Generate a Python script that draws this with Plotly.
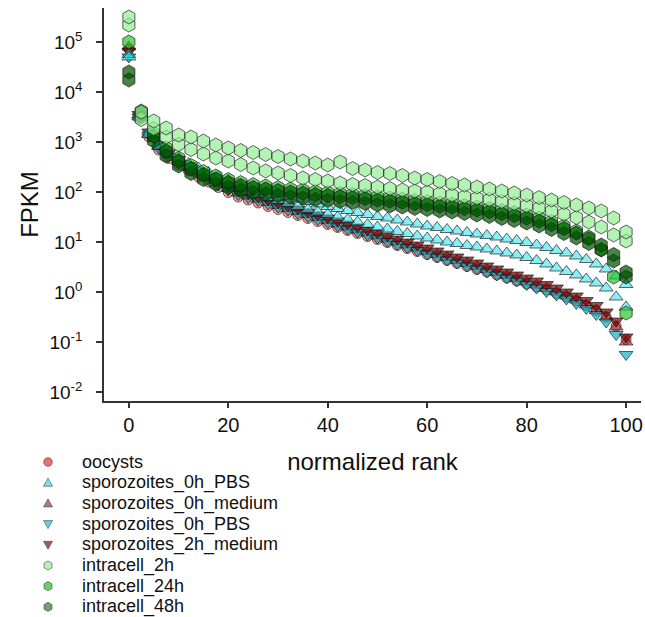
import plotly.graph_objects as go

# normalized rank positions
RANK = [0, 2, 4, 6, 8, 10, 12, 14, 16, 18, 20, 22, 24, 26, 28, 30, 32, 34, 36, 38, 40,
        42, 44, 46, 48, 50, 52, 54, 56, 58, 60, 62, 64, 66, 68, 70, 72, 74, 76, 78, 80,
        82, 84, 86, 88, 90, 92, 94, 96, 98, 100]
RANK_HEX = [0, 2.5, 5, 7.5, 10, 12.5, 15, 17.5, 20, 22.5, 25, 27.5, 30, 32.5, 35, 37.5,
            40, 42.5, 45, 47.5, 50, 52.5, 55, 57.5, 60, 62.5, 65, 67.5, 70, 72.5, 75,
            77.5, 80, 82.5, 85, 87.5, 90, 92.5, 95, 97.5, 100]

# log10(FPKM) per sample
oocysts_log = [4.86, 3.47, 3.1, 2.84, 2.67, 2.54, 2.42, 2.3, 2.2, 2.09, 1.99, 1.9, 1.84, 1.78,
               1.71, 1.65, 1.59, 1.53, 1.47, 1.41, 1.35, 1.29, 1.23, 1.17, 1.11, 1.05, 0.99,
               0.93, 0.87, 0.81, 0.75, 0.69, 0.63, 0.57, 0.51, 0.45, 0.4, 0.34, 0.28, 0.22,
               0.16, 0.1, 0.04, -0.03, -0.1, -0.18, -0.27, -0.37, -0.5, -0.68, -0.95]
spz0_pbs_a_log = [4.75, 3.55, 3.2, 2.96, 2.8, 2.68, 2.57, 2.48, 2.39, 2.31, 2.24, 2.17, 2.11,
                  2.06, 2.01, 1.96, 1.91, 1.86, 1.81, 1.76, 1.71, 1.67, 1.63, 1.59, 1.55, 1.51,
                  1.48, 1.44, 1.4, 1.36, 1.32, 1.29, 1.25, 1.22, 1.19, 1.16, 1.13, 1.1, 1.06,
                  1.03, 0.99, 0.94, 0.89, 0.83, 0.78, 0.72, 0.65, 0.56, 0.46, 0.32, 0.15]
spz0_pbs_b_log = [4.7, 3.5, 3.15, 2.92, 2.76, 2.63, 2.52, 2.42, 2.33, 2.24, 2.16, 2.08, 2.01,
                  1.95, 1.89, 1.83, 1.77, 1.71, 1.65, 1.6, 1.55, 1.5, 1.45, 1.4, 1.35, 1.3,
                  1.26, 1.21, 1.17, 1.12, 1.08, 1.04, 1.0, 0.97, 0.93, 0.9, 0.86, 0.82, 0.78,
                  0.74, 0.69, 0.63, 0.56, 0.48, 0.41, 0.34, 0.26, 0.18, 0.08, -0.1, -0.3]
spz0_medium_log = [4.9, 3.52, 3.16, 2.91, 2.74, 2.61, 2.49, 2.38, 2.28, 2.17, 2.07, 1.98, 1.92,
                   1.86, 1.79, 1.73, 1.67, 1.61, 1.55, 1.49, 1.43, 1.36, 1.3, 1.24, 1.18, 1.12,
                   1.06, 1.0, 0.94, 0.88, 0.81, 0.75, 0.69, 0.63, 0.57, 0.51, 0.45, 0.39, 0.33,
                   0.27, 0.2, 0.14, 0.07, 0.0, -0.08, -0.16, -0.26, -0.37, -0.5, -0.7, -1.0]
spz0_pbs_down_log = [4.7, 3.5, 3.14, 2.88, 2.71, 2.58, 2.46, 2.35, 2.25, 2.14, 2.04, 1.95, 1.89,
                     1.83, 1.76, 1.7, 1.64, 1.57, 1.51, 1.45, 1.39, 1.32, 1.26, 1.2, 1.14, 1.08,
                     1.01, 0.95, 0.89, 0.83, 0.76, 0.7, 0.64, 0.58, 0.52, 0.46, 0.4, 0.34, 0.28,
                     0.22, 0.15, 0.08, 0.01, -0.06, -0.14, -0.23, -0.33, -0.45, -0.6, -0.85, -1.25]
spz2_medium_log = [4.82, 3.55, 3.2, 2.95, 2.78, 2.65, 2.53, 2.42, 2.32, 2.21, 2.11, 2.02, 1.96,
                   1.9, 1.84, 1.78, 1.72, 1.66, 1.6, 1.54, 1.48, 1.42, 1.36, 1.3, 1.24, 1.18,
                   1.12, 1.06, 1.0, 0.94, 0.88, 0.82, 0.76, 0.7, 0.64, 0.58, 0.52, 0.46, 0.4,
                   0.34, 0.28, 0.22, 0.15, 0.08, 0.0, -0.08, -0.17, -0.27, -0.4, -0.58, -0.9]
intra2h_a_log = [5.5, 3.6, 3.42, 3.28, 3.14, 3.1, 3.02, 2.94, 2.88, 2.83, 2.79, 2.75, 2.71, 2.66,
                 2.62, 2.58, 2.54, 2.6, 2.47, 2.44, 2.39, 2.37, 2.33, 2.28, 2.25, 2.21, 2.17,
                 2.14, 2.1, 2.06, 2.02, 1.98, 1.94, 1.89, 1.84, 1.79, 1.74, 1.68, 1.62, 1.48, 1.2]
intra2h_b_log = [5.34, 3.45, 3.27, 3.1, 2.95, 2.85, 2.76, 2.68, 2.62, 2.55, 2.48, 2.42, 2.38,
                 2.33, 2.28, 2.25, 2.22, 2.18, 2.15, 2.13, 2.1, 2.07, 2.04, 2.02, 2.0, 1.97,
                 1.94, 1.91, 1.88, 1.85, 1.81, 1.77, 1.73, 1.68, 1.62, 1.56, 1.49, 1.4, 1.3,
                 1.14, 1.02]
intra24h_log = [5.0, 3.62, 3.18, 2.88, 2.68, 2.53, 2.41, 2.32, 2.25, 2.19, 2.15, 2.12, 2.09,
                2.06, 2.04, 2.01, 1.99, 1.97, 1.95, 1.93, 1.9, 1.88, 1.86, 1.83, 1.81, 1.78,
                1.76, 1.73, 1.7, 1.67, 1.63, 1.59, 1.54, 1.48, 1.41, 1.32, 1.22, 1.1, 0.85,
                0.3, -0.42]
intra48h_a_log = [4.24, 3.58, 3.12, 2.82, 2.62, 2.47, 2.35, 2.26, 2.19, 2.13, 2.09, 2.06, 2.03,
                  2.0, 1.98, 1.95, 1.93, 1.91, 1.89, 1.87, 1.84, 1.82, 1.8, 1.77, 1.75, 1.72,
                  1.7, 1.67, 1.64, 1.61, 1.57, 1.53, 1.48, 1.42, 1.35, 1.27, 1.18, 1.07, 0.94,
                  0.75, 0.4]
intra48h_b_log = [4.4, 3.5, 3.02, 2.72, 2.52, 2.37, 2.25, 2.16, 2.09, 2.03, 1.99, 1.96, 1.93,
                  1.9, 1.88, 1.85, 1.83, 1.81, 1.79, 1.77, 1.74, 1.72, 1.7, 1.67, 1.65, 1.62,
                  1.6, 1.57, 1.54, 1.51, 1.47, 1.43, 1.38, 1.32, 1.25, 1.17, 1.08, 0.97, 0.84,
                  0.62, 0.3]

Y_TICKS = [-2, -1, 0, 1, 2, 3, 4, 5]
Y_TICK_TEXT = ["10<sup>-2</sup>", "10<sup>-1</sup>", "10<sup>0</sup>", "10<sup>1</sup>",
               "10<sup>2</sup>", "10<sup>3</sup>", "10<sup>4</sup>", "10<sup>5</sup>"]
X_TICKS = [0, 20, 40, 60, 80, 100]

FONT = "Arial, Liberation Sans, sans-serif"
EDGE = dict(color="rgba(20,20,20,0.65)", width=1)

# symbol, fill colour, legend colour, marker size
STYLES = {
    "oocysts": ("circle", "rgba(255,40,40,0.5)", "rgba(240,80,80,0.85)", 10),
    "sporozoites_0h_PBS_up": ("triangle-up", "rgba(40,225,240,0.55)", "rgba(110,225,235,0.95)", 12),
    "sporozoites_0h_medium": ("triangle-up", "rgba(140,30,30,0.5)", "rgba(176,115,115,0.95)", 12),
    "sporozoites_0h_PBS_down": ("triangle-down", "rgba(0,170,190,0.65)", "rgba(90,205,220,0.95)", 12),
    "sporozoites_2h_medium": ("triangle-down", "rgba(115,0,0,0.7)", "rgba(160,80,80,0.95)", 12),
    "intracell_2h": ("hexagon", "rgba(150,238,150,0.72)", "rgba(180,240,175,0.95)", 14),
    "intracell_24h": ("hexagon", "rgba(30,190,30,0.65)", "rgba(95,205,95,0.95)", 14),
    "intracell_48h": ("hexagon", "rgba(0,85,0,0.72)", "rgba(105,155,105,0.95)", 14),
}

W, H = 645, 617
ML, MR, MT, MB = 104, 4, 8, 216
PW, PH = W - ML - MR, H - MT - MB

fig = go.Figure()


def add_points(x, ylog, key):
    sym, fill, _, size = STYLES[key]
    fig.add_trace(go.Scatter(
        x=x, y=[10 ** v for v in ylog], mode="markers", showlegend=False,
        marker=dict(symbol=sym, color=fill, size=size, line=EDGE),
        hoverinfo="skip"))


add_points(RANK, oocysts_log, "oocysts")
add_points(RANK, spz0_medium_log, "sporozoites_0h_medium")
add_points(RANK, spz0_pbs_down_log, "sporozoites_0h_PBS_down")
add_points(RANK, spz2_medium_log, "sporozoites_2h_medium")
add_points(RANK, spz0_pbs_a_log, "sporozoites_0h_PBS_up")
add_points(RANK, spz0_pbs_b_log, "sporozoites_0h_PBS_up")
add_points(RANK_HEX, intra24h_log, "intracell_24h")
add_points(RANK_HEX, intra48h_b_log, "intracell_48h")
add_points(RANK_HEX, intra48h_a_log, "intracell_48h")
add_points(RANK_HEX, intra2h_b_log, "intracell_2h")
add_points(RANK_HEX, intra2h_a_log, "intracell_2h")

# legend below the axes: marker glyph + label per sample
LEGEND = [("oocysts", "oocysts"),
          ("sporozoites_0h_PBS", "sporozoites_0h_PBS_up"),
          ("sporozoites_0h_medium", "sporozoites_0h_medium"),
          ("sporozoites_0h_PBS", "sporozoites_0h_PBS_down"),
          ("sporozoites_2h_medium", "sporozoites_2h_medium"),
          ("intracell_2h", "intracell_2h"),
          ("intracell_24h", "intracell_24h"),
          ("intracell_48h", "intracell_48h")]

GLYPHS = {
    "triangle-up": "M -4.5,-3.5 L 4.5,-3.5 L 0,4.5 Z",
    "triangle-down": "M -4.5,3.5 L 4.5,3.5 L 0,-4.5 Z",
    "hexagon": "M 0,4.6 L 4,2.3 L 4,-2.3 L 0,-4.6 L -4,-2.3 L -4,2.3 Z",
}

LEG_X, LEG_TEXT_X, LEG_Y0, LEG_DY = 48, 80, 462, 20.7


def px_to_paper(px, py):
    return (px - ML) / PW, (H - MB - py) / PH


shapes, annotations = [], []
for i, (label, key) in enumerate(LEGEND):
    sym, _, lcol, _ = STYLES[key]
    py = LEG_Y0 + i * LEG_DY
    mx, my = px_to_paper(LEG_X, py)
    common = dict(xref="paper", yref="paper", xsizemode="pixel", ysizemode="pixel",
                  xanchor=mx, yanchor=my, fillcolor=lcol,
                  line=dict(color="rgba(60,60,60,0.7)", width=0.8), layer="above")
    if sym == "circle":
        shapes.append(dict(type="circle", x0=-4.3, x1=4.3, y0=-4.3, y1=4.3, **common))
    else:
        shapes.append(dict(type="path", path=GLYPHS[sym], **common))
    tx, ty = px_to_paper(LEG_TEXT_X, py)
    annotations.append(dict(xref="paper", yref="paper", x=tx, y=ty, xanchor="left",
                            yanchor="middle", text=label, showarrow=False,
                            font=dict(size=18, family=FONT, color="#111")))

fig.update_layout(
    width=W, height=H,
    margin=dict(l=ML, r=MR, t=MT, b=MB, autoexpand=False),
    paper_bgcolor="white", plot_bgcolor="white",
    font=dict(family=FONT, color="#111"),
    showlegend=False,
    shapes=shapes, annotations=annotations,
    xaxis=dict(
        range=[-5, 103], tickvals=X_TICKS, showgrid=False, zeroline=False,
        showline=True, linecolor="#333", linewidth=1.5,
        ticks="outside", ticklen=5, tickwidth=1.5, tickcolor="#333",
        tickfont=dict(size=20, family=FONT),
        title=dict(text="normalized rank", font=dict(size=24, family=FONT), standoff=18),
    ),
    yaxis=dict(
        type="log", range=[-2.18, 5.68], tickvals=[10 ** v for v in Y_TICKS],
        ticktext=Y_TICK_TEXT, showgrid=False, zeroline=False,
        showline=True, linecolor="#333", linewidth=1.5,
        ticks="outside", ticklen=6, tickwidth=1.5, tickcolor="#333",
        tickfont=dict(size=19, family=FONT), ticklabelstandoff=10,
        title=dict(text="FPKM", font=dict(size=24, family=FONT), standoff=4),
    ),
)

fig.write_html("out.html")
